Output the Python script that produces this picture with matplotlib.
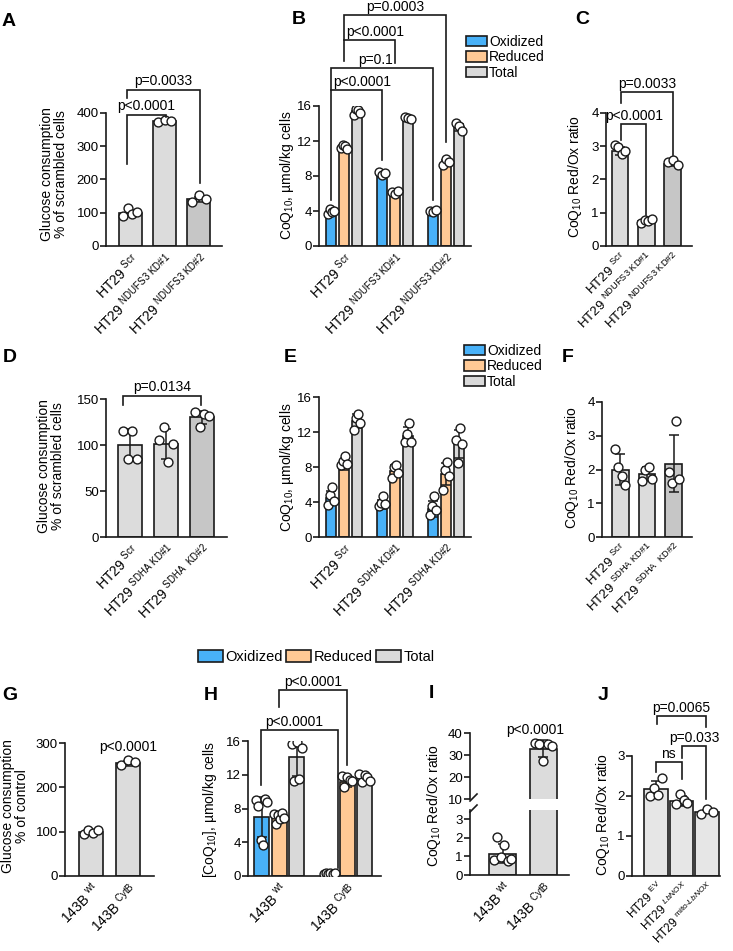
import numpy as np
import matplotlib
matplotlib.use('Agg')
import matplotlib.pyplot as plt
from matplotlib.patches import Patch

plt.rcParams['font.family'] = ['Liberation Sans', 'DejaVu Sans']
plt.rcParams['mathtext.fontset'] = 'custom'
plt.rcParams['mathtext.rm'] = 'Liberation Sans'
plt.rcParams['mathtext.it'] = 'Liberation Sans:italic'
plt.rcParams['mathtext.bf'] = 'Liberation Sans:bold'
plt.rcParams['mathtext.sf'] = 'Liberation Sans'
plt.rcParams['mathtext.default'] = 'regular'

# ---------------- data ----------------
series_names = ['Oxidized', 'Reduced', 'Total']

a_labels = ['HT29 $^{Scr}$', 'HT29 $^{NDUFS3\\ KD\\#1}$', 'HT29 $^{NDUFS3\\ KD\\#2}$']
a_vals = [100, 375, 140]
a_err = [9, 3, 8]
a_pts = [[90, 113, 95, 103], [373, 378, 376], [133, 152, 140]]

b_labels = a_labels
b_ox = [3.8, 8.3, 3.9]
b_ox_err = [0.2, 0.2, 0.1]
b_ox_pts = [[3.7, 4.2, 3.9, 4.0], [8.5, 8.1, 8.4], [4.0, 3.9, 4.1]]
b_red = [11.3, 6.1, 9.5]
b_red_err = [0.2, 0.2, 0.3]
b_red_pts = [[11.2, 11.5, 11.4, 11.1], [6.2, 6.0, 6.3], [9.3, 9.9, 9.6]]
b_tot = [15.4, 14.6, 13.6]
b_tot_err = [0.3, 0.1, 0.4]
b_tot_pts = [[15.0, 15.7, 15.6, 15.2], [14.8, 14.6, 14.5], [14.1, 13.7, 13.2]]

c_labels = a_labels
c_vals = [2.85, 0.74, 2.48]
c_err = [0.12, 0.04, 0.07]
c_pts = [[3.05, 2.98, 2.78, 2.85], [0.70, 0.78, 0.74, 0.80], [2.53, 2.58, 2.43]]

d_labels = ['HT29 $^{Scr}$', 'HT29 $^{SDHA\\ KD\\#1}$', 'HT29 $^{SDHA\\ \\ KD\\#2}$']
d_vals = [100, 101, 130]
d_err = [17, 16, 7]
d_pts = [[115, 85, 115, 85], [105, 120, 81, 101], [136, 120, 134, 131]]

e_labels = ['HT29 $^{Scr}$', 'HT29 $^{SDHA\\ KD\\#1}$', 'HT29 $^{SDHA\\ KD\\#2}$']
e_ox = [4.5, 3.7, 3.2]
e_ox_err = [0.8, 0.5, 0.9]
e_ox_pts = [[3.7, 4.8, 5.7, 4.1], [3.6, 3.9, 4.7, 3.8], [2.5, 3.6, 4.7, 3.1]]
e_red = [8.2, 7.6, 7.2]
e_red_err = [0.5, 0.6, 1.3]
e_red_pts = [[8.2, 8.7, 9.3, 8.4], [6.8, 8.0, 8.2, 7.3], [5.4, 7.7, 8.6, 7.0]]
e_tot = [13.3, 11.6, 10.6]
e_tot_err = [0.8, 1.0, 1.6]
e_tot_pts = [[12.2, 13.6, 14.1, 13.0], [10.9, 11.8, 13.0, 10.9], [11.1, 8.5, 12.5, 10.6]]

f_labels = d_labels
f_vals = [2.0, 1.86, 2.17]
f_err = [0.45, 0.2, 0.85]
f_pts = [[2.6, 2.06, 1.82, 1.54], [1.67, 1.99, 2.08, 1.71], [1.94, 1.61, 3.43, 1.71]]

g_labels = ['143B $^{wt}$', '143B $^{CytB}$']
g_vals = [99, 254]
g_err = [4, 5]
g_pts = [[95, 104, 97, 103], [250, 261, 257]]

h_labels = g_labels
h_ox = [7.0, 0.3]
h_ox_err = [2.4, 0.05]
h_ox_pts = [[9.0, 8.3, 4.3, 3.7, 9.1, 8.8], [0.28, 0.3, 0.27, 0.3, 0.28, 0.3]]
h_red = [6.9, 11.2]
h_red_err = [0.5, 0.6]
h_red_pts = [[7.4, 6.2, 7.2, 6.8, 7.5, 6.9], [11.9, 10.5, 11.7, 11.4, 11.3]]
h_tot = [14.1, 11.6]
h_tot_err = [2.3, 0.5]
h_tot_pts = [[15.7, 11.3, 15.9, 11.5, 15.2], [12.1, 11.2, 12.0, 11.7, 11.3]]

i_labels = g_labels
i_vals = [1.15, 32.8]
i_err = [0.5, 3.8]
i_pts = [[0.8, 2.05, 0.95, 1.6, 0.75, 0.85], [35.6, 35.2, 27.5, 34.9, 34.2]]

j_labels = ['HT29 $^{EV}$', 'HT29 $^{\\mathit{LbNOX}}$', 'HT29 $^{mito\\text{-}\\mathit{LbNOX}}$']
j_vals = [2.17, 1.88, 1.61]
j_err = [0.2, 0.12, 0.04]
j_pts = [[2.0, 2.2, 2.03, 2.45], [1.8, 2.05, 1.9, 1.82], [1.56, 1.67, 1.6]]

# ---------------- style ----------------
BLUE = '#48b1f8'
ORANGE = '#ffc995'
GREY = '#d9d9d9'
LIGHT = '#dcdcdc'
DARK = '#c6c6c6'
JGREY = '#e6e6e6'
EDGE = '#1a1a1a'
TICK_FS = 9.5
XLAB_FS = 10
LAB_FS = 10
P_FS = 10

W, H = 733, 951
fig = plt.figure(figsize=(W / 100, H / 100), dpi=100)


def add_ax(l, t, r, b):
    return fig.add_axes([l / W, 1 - b / H, (r - l) / W, (b - t) / H])


def style(ax, ylim, yticks, xlim):
    ax.set_ylim(*ylim)
    ax.set_yticks(yticks)
    ax.set_xlim(*xlim)
    for s in ['top', 'right']:
        ax.spines[s].set_visible(False)
    for s in ['left', 'bottom']:
        ax.spines[s].set_linewidth(1.2)
        ax.spines[s].set_color(EDGE)
    ax.tick_params(axis='y', length=4, width=1.2, labelsize=TICK_FS, pad=1.2, color=EDGE)
    ax.tick_params(axis='x', length=0, labelsize=XLAB_FS, pad=3)
    ax.patch.set_alpha(0)


def set_xlabels(ax, x, labels, fs=XLAB_FS, pad=3):
    ax.set_xticks(x)
    ax.set_xticklabels(labels, rotation=45, ha='right', va='top', rotation_mode='anchor',
                       fontsize=fs)
    ax.tick_params(axis='x', pad=pad)


def draw_bars(ax, x, vals, errs, pts, colors, width, spread=0.3):
    ax.bar(x, vals, width, color=colors, edgecolor=EDGE, linewidth=1.2, zorder=2)
    ax.errorbar(x, vals, yerr=errs, fmt='none', ecolor=EDGE, elinewidth=1.1,
                capsize=3.5, capthick=1.1, zorder=3)
    for xi, p in zip(x, pts):
        n = len(p)
        offs = np.linspace(-1, 1, n) * width * spread if n > 1 else np.zeros(1)
        ax.plot(xi + offs, p, 'o', ms=6.4, mfc='white', mec=EDGE, mew=1.0, zorder=4)


def bracket(ax, x1, x2, y, y1, y2, text=None, tx=None):
    ax.plot([x1, x1, x2, x2], [y1, y, y, y2], color=EDGE, lw=1.2, clip_on=False,
            zorder=5, solid_joinstyle='miter')
    if text:
        ax.annotate(text, xy=((x1 + x2) / 2 if tx is None else tx, y), xytext=(0, 1),
                    textcoords='offset points', ha='center', va='bottom',
                    fontsize=P_FS, annotation_clip=False)


def ylab(x, y, text, linespacing=1.0):
    fig.text(x / W, 1 - y / H, text, rotation=90, ha='center', va='center',
             fontsize=LAB_FS, linespacing=linespacing, multialignment='center')


def letter(x, y, s):
    fig.text(x / W, 1 - y / H, s, fontsize=14, fontweight='bold', ha='center', va='center')


handles = [Patch(facecolor=c, edgecolor=EDGE, linewidth=1.2) for c in (BLUE, ORANGE, GREY)]

# ---------------- A ----------------
ax = add_ax(106, 113, 222, 246)
style(ax, (0, 400), [0, 100, 200, 300, 400], (-0.7, 2.67))
x = np.arange(3)
draw_bars(ax, x, a_vals, a_err, a_pts, [LIGHT, LIGHT, DARK], 0.67)
set_xlabels(ax, x, a_labels)
bracket(ax, -0.1, 1.05, 395, 248, 388, 'p<0.0001')
bracket(ax, -0.1, 2.03, 470, 446, 190, 'p=0.0033')
ylab(54, 174, 'Glucose consumption\n% of scrambled cells')
letter(9, 21, 'A')

# ---------------- B ----------------
ax = add_ax(319, 106, 471, 246)
style(ax, (0, 16), [0, 4, 8, 12, 16], (-0.49, 2.49))
offs = [-0.255, 0, 0.255]
bw = 0.21
for k, (v, e, p, c) in enumerate(zip([b_ox, b_red, b_tot], [b_ox_err, b_red_err, b_tot_err],
                                     [b_ox_pts, b_red_pts, b_tot_pts], [BLUE, ORANGE, GREY])):
    draw_bars(ax, x + offs[k], v, e, p, c, bw, spread=0.3)
set_xlabels(ax, x, b_labels)
bracket(ax, -0.255, 0.745, 17.8, 5.3, 9.8, 'p<0.0001', tx=0.35)
bracket(ax, -0.255, 1.745, 20.3, 17.8, 5.3, 'p=0.1', tx=0.62)
bracket(ax, 0, 1.0, 23.5, 21.1, 20.9, 'p<0.0001', tx=0.61)
bracket(ax, 0, 2.0, 26.4, 23.5, 11.9, 'p=0.0003')
ax.legend(handles, series_names, loc='upper left', bbox_to_anchor=(466 / W, 1 - 35 / H),
          bbox_transform=fig.transFigure, frameon=False, fontsize=LAB_FS, handlelength=1.5,
          handleheight=0.78, handletextpad=0.15, labelspacing=0.1, borderpad=0, borderaxespad=0)
ylab(287, 175, 'CoQ$_{10}$, µmol/kg cells')
letter(299, 20, 'B')

# ---------------- C ----------------
ax = add_ax(606, 113, 692, 246)
style(ax, (0, 4), [0, 1, 2, 3, 4], (-0.53, 2.72))
draw_bars(ax, x, c_vals, c_err, c_pts, [LIGHT, LIGHT, DARK], 0.64)
set_xlabels(ax, x, c_labels, fs=9.5)
bracket(ax, 0.05, 1.0, 3.66, 3.18, 0.93, 'p<0.0001')
bracket(ax, 0.05, 2.0, 4.63, 4.3, 2.73, 'p=0.0033')
ylab(575, 176, 'CoQ$_{10}$ Red/Ox ratio')
letter(582, 20, 'C')

# ---------------- D ----------------
ax = add_ax(106, 399, 227, 537)
style(ax, (0, 150), [0, 50, 100, 150], (-0.67, 2.69))
draw_bars(ax, x, d_vals, d_err, d_pts, [LIGHT, LIGHT, DARK], 0.65)
set_xlabels(ax, x, d_labels)
bracket(ax, -0.19, 1.97, 153.6, 143.5, 143.5, 'p=0.0134')
ylab(51, 466, 'Glucose consumption\n% of scrambled cells')
letter(10, 357, 'D')

# ---------------- E ----------------
ax = add_ax(319, 397, 471, 537)
style(ax, (0, 16), [0, 4, 8, 12, 16], (-0.49, 2.49))
for k, (v, e, p, c) in enumerate(zip([e_ox, e_red, e_tot], [e_ox_err, e_red_err, e_tot_err],
                                     [e_ox_pts, e_red_pts, e_tot_pts], [BLUE, ORANGE, GREY])):
    draw_bars(ax, x + offs[k], v, e, p, c, bw, spread=0.3)
set_xlabels(ax, x, e_labels)
ax.legend(handles, series_names, loc='upper left', bbox_to_anchor=(464 / W, 1 - 344 / H),
          bbox_transform=fig.transFigure, frameon=False, fontsize=LAB_FS, handlelength=1.5,
          handleheight=0.78, handletextpad=0.15, labelspacing=0.1, borderpad=0, borderaxespad=0)
ylab(287, 467, 'CoQ$_{10}$, µmol/kg cells')
letter(290, 358, 'E')

# ---------------- F ----------------
ax = add_ax(602, 402, 692, 537)
style(ax, (0, 4), [0, 1, 2, 3, 4], (-0.67, 2.67))
draw_bars(ax, x, f_vals, f_err, f_pts, [LIGHT, LIGHT, DARK], 0.63)
set_xlabels(ax, x, f_labels, fs=9.5)
ylab(572, 467, 'CoQ$_{10}$ Red/Ox ratio')
letter(568, 357, 'F')

# ---------------- G ----------------
x2 = np.arange(2)
ax = add_ax(65, 743, 154, 876)
style(ax, (0, 300), [0, 100, 200, 300], (-0.69, 1.69))
draw_bars(ax, x2, g_vals, g_err, g_pts, [LIGHT, LIGHT], 0.64)
set_xlabels(ax, x2, g_labels)
ax.text(1, 292, 'p<0.0001', ha='center', va='center', fontsize=P_FS)
ylab(15, 806, 'Glucose consumption\n% of control')
letter(10, 696, 'G')

# ---------------- H ----------------
ax = add_ax(248, 741, 381, 876)
style(ax, (0, 16), [0, 4, 8, 12, 16], (-0.46, 1.5))
hoffs = [-0.26, 0, 0.26]
for k, (v, e, p, c) in enumerate(zip([h_ox, h_red, h_tot], [h_ox_err, h_red_err, h_tot_err],
                                     [h_ox_pts, h_red_pts, h_tot_pts], [BLUE, ORANGE, GREY])):
    draw_bars(ax, x2 + hoffs[k], v, e, p, c, 0.22, spread=0.35)
set_xlabels(ax, x2, h_labels)
bracket(ax, -0.27, 0.86, 17.3, 10.75, 0.95, 'p<0.0001', tx=0.22)
bracket(ax, 0, 1.0, 22.0, 20.0, 13.1, 'p<0.0001')
fig.legend(handles, series_names, ncol=3, loc='center left', bbox_to_anchor=(198 / W, 1 - 657 / H),
           frameon=False, fontsize=10.5, handlelength=1.7, handleheight=0.85, handletextpad=0.2,
           columnspacing=0.2, borderpad=0, borderaxespad=0)
ylab(210, 809, '[CoQ$_{10}$], µmol/kg cells')
letter(211, 696, 'H')

# ---------------- I (broken axis) ----------------
axt = add_ax(470, 733, 569, 799)
axb = add_ax(470, 810, 569, 875)
style(axt, (10, 40), [10, 20, 30, 40], (-0.8, 1.63))
style(axb, (0, 3.5), [0, 1, 2, 3], (-0.8, 1.63))
axt.spines['bottom'].set_visible(False)
axt.set_xticks([])
for a in (axt, axb):
    a.bar(x2, i_vals, 0.66, color=[LIGHT, LIGHT], edgecolor=EDGE, linewidth=1.2, zorder=2)
axb.errorbar([0], i_vals[:1], yerr=i_err[:1], fmt='none', ecolor=EDGE, elinewidth=1.1,
             capsize=3.5, capthick=1.1, zorder=3)
axt.errorbar([1], i_vals[1:], yerr=i_err[1:], fmt='none', ecolor=EDGE, elinewidth=1.1,
             capsize=3.5, capthick=1.1, zorder=3)
for xi, p, a in zip(x2, i_pts, (axb, axt)):
    n = len(p)
    o = np.linspace(-1, 1, n) * 0.66 * 0.32
    a.plot(xi + o, p, 'o', ms=6.4, mfc='white', mec=EDGE, mew=1.0, zorder=4)
set_xlabels(axb, x2, i_labels)
axt.text(0.8, 41.4, 'p<0.0001', ha='center', va='center', fontsize=P_FS, clip_on=False)
# break marks
for a, (bx, by) in ((axt, (0, 0)), (axb, (0, 1))):
    tr = a.transAxes
    hpx = a.get_position().height * H
    wpx = a.get_position().width * W
    a.plot([bx, bx + 7 / wpx], [by - 2 / hpx, by + 5 / hpx], transform=tr, color=EDGE,
           lw=1.2, clip_on=False, zorder=6)
ylab(434, 805, 'CoQ$_{10}$ Red/Ox ratio')
letter(431, 694, 'I')

# ---------------- J ----------------
ax = add_ax(632, 756, 720, 876)
style(ax, (0, 3), [0, 1, 2, 3], (-0.93, 2.5))
draw_bars(ax, x, j_vals, j_err, j_pts, [JGREY, JGREY, JGREY], 0.93, spread=0.25)
set_xlabels(ax, x, j_labels, fs=8.6, pad=2)
bracket(ax, 0, 1.0, 2.85, 2.6, 2.43, 'ns')
bracket(ax, 1.0, 1.97, 3.24, 2.96, 1.92, 'p=0.033')
bracket(ax, 0.04, 1.97, 4.0, 3.8, 3.72, 'p=0.0065')
ylab(603, 814, 'CoQ$_{10}$ Red/Ox ratio')
letter(603, 696, 'J')

fig.savefig('out.png', dpi=100)
